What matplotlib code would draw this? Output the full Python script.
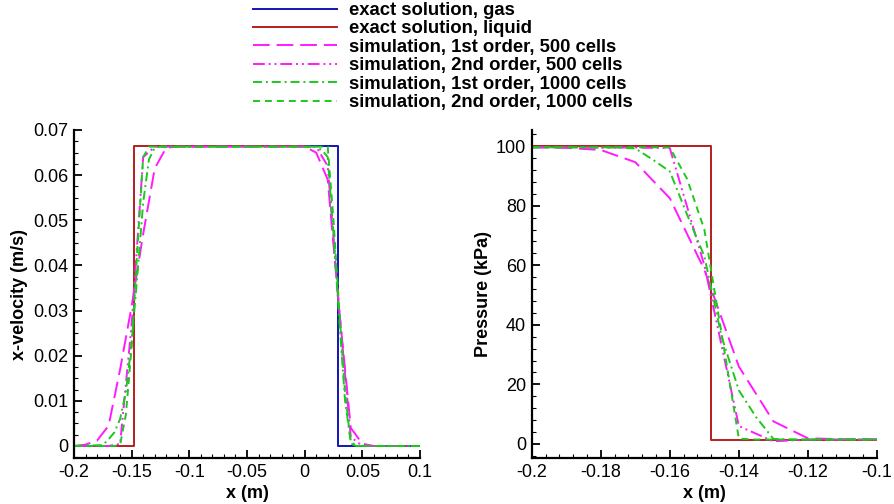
import matplotlib
matplotlib.use("Agg")
import matplotlib.pyplot as plt
from matplotlib.ticker import MultipleLocator, FixedLocator, FixedFormatter

plt.rcParams['font.family'] = ['Liberation Sans', 'DejaVu Sans']
plt.rcParams['lines.scale_dashes'] = False

# ---------------- data: x-velocity (m/s) ----------------
vel_exact_gas_x = [0.0, 0.0292, 0.0292, 0.1]
vel_exact_gas_y = [0.0665, 0.0665, 0.0, 0.0]
vel_exact_liq_x = [-0.2, -0.148, -0.148, 0.0]
vel_exact_liq_y = [0.0, 0.0, 0.0665, 0.0665]

vel_o1_500_x = [-0.2, -0.19, -0.18, -0.17, -0.16, -0.15, -0.14, -0.13, -0.12, -0.11,
                0.0, 0.01, 0.02, 0.03, 0.04, 0.05, 0.06, 0.1]
vel_o1_500_y = [0.0, 0.0003, 0.0012, 0.0045, 0.017, 0.031, 0.047, 0.0615, 0.0661, 0.0663,
                0.0663, 0.065, 0.059, 0.030, 0.004, 0.0005, 0.0, 0.0]

vel_o2_500_x = [-0.2, -0.17, -0.16, -0.15, -0.14, -0.13, 0.01, 0.02, 0.03, 0.04, 0.05, 0.1]
vel_o2_500_y = [0.0, 0.0, 0.0005, 0.027, 0.064, 0.0663, 0.0663, 0.062, 0.030, 0.002, 0.0, 0.0]

vel_o1_1000_x = [-0.2, -0.175, -0.17, -0.165, -0.16, -0.155, -0.15, -0.145, -0.14, -0.135,
                 -0.13, -0.125, 0.01, 0.015, 0.02, 0.025, 0.03, 0.035, 0.04, 0.045, 0.1]
vel_o1_1000_y = [0.0, 0.0002, 0.0015, 0.003, 0.006, 0.012, 0.023, 0.038, 0.054, 0.0635,
                 0.0661, 0.0663, 0.0663, 0.0655, 0.064, 0.047, 0.028, 0.010, 0.001, 0.0, 0.0]

vel_o2_1000_x = [-0.2, -0.165, -0.16, -0.155, -0.15, -0.145, -0.14, -0.135,
                 0.02, 0.025, 0.03, 0.035, 0.04, 0.045, 0.1]
vel_o2_1000_y = [0.0, 0.0, 0.0003, 0.007, 0.022, 0.044, 0.064, 0.0663,
                 0.0663, 0.050, 0.030, 0.012, 0.0005, 0.0, 0.0]

# ---------------- data: pressure (kPa) ----------------
p_exact_liq_x = [-0.2, -0.148, -0.148, -0.1]
p_exact_liq_y = [100.0, 100.0, 1.5, 1.5]

p_o1_500_x = [-0.2, -0.19, -0.18, -0.17, -0.16, -0.15, -0.14, -0.13, -0.12, -0.11, -0.1]
p_o1_500_y = [99.6, 99.4, 98.7, 94.6, 82.5, 58.5, 26.0, 7.6, 1.9, 1.6, 1.6]

p_o2_500_x = [-0.2, -0.17, -0.16, -0.15, -0.14, -0.13, -0.12, -0.1]
p_o2_500_y = [99.6, 99.5, 99.3, 60.0, 6.0, 0.9, 1.5, 1.5]

p_o1_1000_x = [-0.2, -0.175, -0.17, -0.165, -0.16, -0.155, -0.15, -0.145, -0.14, -0.135,
               -0.13, -0.125, -0.1]
p_o1_1000_y = [99.6, 99.5, 99.2, 95.5, 91.5, 77.0, 63.0, 36.0, 18.0, 9.0, 1.7, 1.5, 1.5]

p_o2_1000_x = [-0.2, -0.165, -0.16, -0.155, -0.15, -0.145, -0.14, -0.135, -0.1]
p_o2_1000_y = [99.6, 99.6, 99.5, 89.0, 72.0, 37.0, 1.8, 1.5, 1.5]

labels = ["exact solution, gas", "exact solution, liquid",
          "simulation, 1st order, 500 cells", "simulation, 2nd order, 500 cells",
          "simulation, 1st order, 1000 cells", "simulation, 2nd order, 1000 cells"]

vel_xticks = [-0.2, -0.15, -0.1, -0.05, 0.0, 0.05, 0.1]
vel_xticklabels = ["-0.2", "-0.15", "-0.1", "-0.05", "0", "0.05", "0.1"]
vel_yticks = [0.0, 0.01, 0.02, 0.03, 0.04, 0.05, 0.06, 0.07]
vel_yticklabels = ["0", "0.01", "0.02", "0.03", "0.04", "0.05", "0.06", "0.07"]
p_xticks = [-0.2, -0.18, -0.16, -0.14, -0.12, -0.1]
p_xticklabels = ["-0.2", "-0.18", "-0.16", "-0.14", "-0.12", "-0.1"]
p_yticks = [0, 20, 40, 60, 80, 100]
p_yticklabels = ["0", "20", "40", "60", "80", "100"]

# ---------------- styles ----------------
C_BLUE = "#1414b4"
C_RED = "#b41e1e"
C_MAG = "#ff1aff"
C_GRN = "#1ec81e"
LW = 1.4
st_gas = dict(color=C_BLUE, lw=LW, linestyle='-')
st_liq = dict(color=C_RED, lw=LW, linestyle='-')
st_o1_500 = dict(color=C_MAG, lw=LW, linestyle=(0, (12, 5)))
st_o2_500 = dict(color=C_MAG, lw=LW, linestyle=(0, (8.5, 2.8, 1.4, 2.8, 1.4, 2.8)))
st_o1_1000 = dict(color=C_GRN, lw=LW, linestyle=(0, (6.5, 2.8, 1.4, 2.8)))
st_o2_1000 = dict(color=C_GRN, lw=LW, linestyle=(0, (5, 3.6)))

fig = plt.figure(figsize=(8.94, 5.04), dpi=100)
ax1 = fig.add_axes([74 / 894, 46 / 504, 346 / 894, 328 / 504])
ax2 = fig.add_axes([531.7 / 894, 46 / 504, 345.3 / 894, 328 / 504])

h = []
h += ax1.plot(vel_exact_gas_x, vel_exact_gas_y, **st_gas)
h += ax1.plot(vel_exact_liq_x, vel_exact_liq_y, **st_liq)
h += ax1.plot(vel_o1_500_x, vel_o1_500_y, **st_o1_500)
h += ax1.plot(vel_o2_500_x, vel_o2_500_y, **st_o2_500)
h += ax1.plot(vel_o1_1000_x, vel_o1_1000_y, **st_o1_1000)
h += ax1.plot(vel_o2_1000_x, vel_o2_1000_y, **st_o2_1000)

ax2.plot(p_exact_liq_x, p_exact_liq_y, **st_liq)
ax2.plot(p_o1_500_x, p_o1_500_y, **st_o1_500)
ax2.plot(p_o2_500_x, p_o2_500_y, **st_o2_500)
ax2.plot(p_o1_1000_x, p_o1_1000_y, **st_o1_1000)
ax2.plot(p_o2_1000_x, p_o2_1000_y, **st_o2_1000)

ax1.set_xlim(-0.2, 0.1)
ax1.set_ylim(-0.00266, 0.07)
ax2.set_xlim(-0.2, -0.1)
ax2.set_ylim(-4.7, 105.4)

def style(ax, xt, xtl, yt, ytl, xminor, yminor, ylabel, ylabelpad):
    for s in ('top', 'right'):
        ax.spines[s].set_visible(False)
    for s in ('left', 'bottom'):
        ax.spines[s].set_linewidth(1.6)
    ax.xaxis.set_major_locator(FixedLocator(xt))
    ax.xaxis.set_major_formatter(FixedFormatter(xtl))
    ax.yaxis.set_major_locator(FixedLocator(yt))
    ax.yaxis.set_major_formatter(FixedFormatter(ytl))
    ax.xaxis.set_minor_locator(MultipleLocator(xminor))
    ax.yaxis.set_minor_locator(MultipleLocator(yminor))
    ax.tick_params(which='major', direction='in', length=6, width=1.3,
                   labelsize=13, pad=4, top=False, right=False)
    ax.tick_params(which='minor', direction='in', length=3, width=0.8,
                   top=False, right=False)
    ax.set_xlabel("x (m)", fontsize=13, fontweight='bold', labelpad=3)
    ax.set_ylabel(ylabel, fontsize=13, fontweight='bold', labelpad=ylabelpad)

style(ax1, vel_xticks, vel_xticklabels, vel_yticks, vel_yticklabels, 0.01, 0.0025,
      "x-velocity (m/s)", 3.5)
style(ax2, p_xticks, p_xticklabels, p_yticks, p_yticklabels, 0.004, 4,
      "Pressure (kPa)", 2.5)

fig.legend(h, labels, loc='upper left', bbox_to_anchor=(253 / 894, 1 - 2 / 504),
           frameon=False, prop=dict(family='Liberation Sans', weight='bold', size=13.3),
           handlelength=4.55, handletextpad=0.62, labelspacing=0.08, borderpad=0.0,
           borderaxespad=0.0)

fig.savefig("out.png", dpi=100)
